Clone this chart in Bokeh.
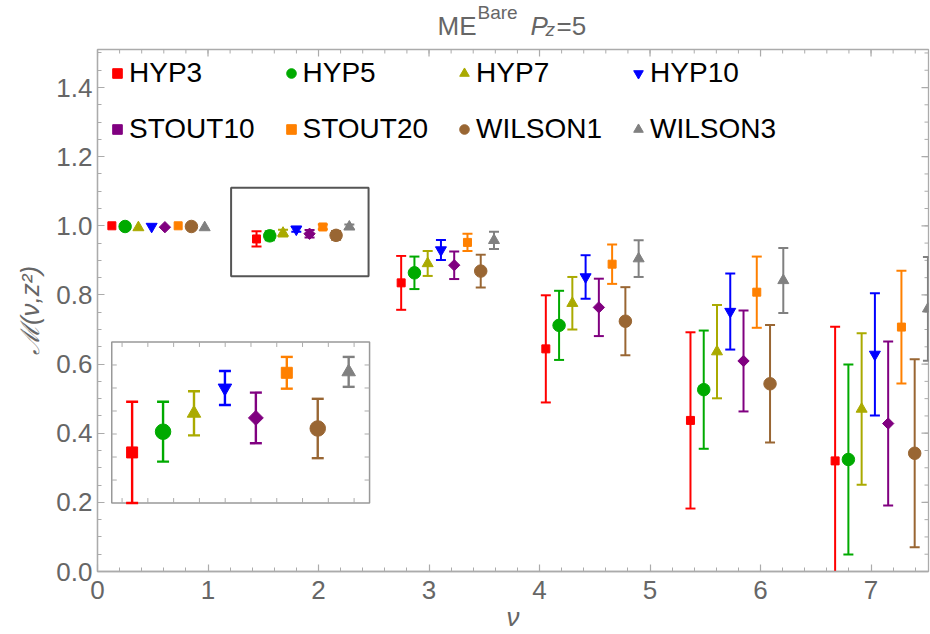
import math
from bokeh.plotting import figure
from bokeh.layouts import column
from bokeh.models import (ColumnDataSource, Range1d, FixedTicker, Legend,
                          LegendItem, Label, BoxAnnotation, PrintfTickFormatter)
from bokeh.embed import file_html
from bokeh.resources import INLINE

# ---------------- data ----------------
nu_groups = [0.0, 1.309, 2.618, 3.927, 5.236, 6.545]          # nu = 2*pi*Pz*z/L
series_names = ["HYP3", "HYP5", "HYP7", "HYP10", "STOUT10", "STOUT20", "WILSON1", "WILSON3"]
nu_shift = [0.13, 0.25, 0.37, 0.49, 0.61, 0.73, 0.85, 0.97]    # horizontal offset per series

hyp3_val = [1.000, 0.962, 0.835, 0.644, 0.437, 0.320]
hyp3_err = [0.0, 0.022, 0.078, 0.155, 0.255, 0.388]
hyp5_val = [0.998, 0.971, 0.864, 0.712, 0.526, 0.324]
hyp5_err = [0.0, 0.013, 0.047, 0.100, 0.171, 0.275]
hyp7_val = [0.995, 0.979, 0.891, 0.776, 0.636, 0.470]
hyp7_err = [0.0, 0.0096, 0.036, 0.076, 0.135, 0.219]
hyp10_val = [0.998, 0.990, 0.930, 0.852, 0.752, 0.628]
hyp10_err = [0.0, 0.0074, 0.029, 0.063, 0.110, 0.177]
stout10_val = [0.996, 0.977, 0.886, 0.764, 0.609, 0.428]
stout10_err = [0.0, 0.011, 0.040, 0.083, 0.146, 0.237]
stout20_val = [1.000, 0.9966, 0.952, 0.889, 0.808, 0.707]
stout20_err = [0.0, 0.0069, 0.025, 0.057, 0.103, 0.163]
wilson1_val = [0.998, 0.9724, 0.869, 0.724, 0.543, 0.342]
wilson1_err = [0.0, 0.0129, 0.0475, 0.0985, 0.170, 0.272]
wilson3_val = [0.995, 0.997, 0.958, 0.905, 0.842, 0.760]
wilson3_err = [0.0, 0.0065, 0.025, 0.053, 0.094, 0.150]

values = [hyp3_val, hyp5_val, hyp7_val, hyp10_val, stout10_val, stout20_val, wilson1_val, wilson3_val]
errors = [hyp3_err, hyp5_err, hyp7_err, hyp10_err, stout10_err, stout20_err, wilson1_err, wilson3_err]

x_ticks = [0, 1, 2, 3, 4, 5, 6, 7]
y_ticks = [0.0, 0.2, 0.4, 0.6, 0.8, 1.0, 1.2, 1.4]
inset_group = 1
inset_x_ticks = [1.4, 1.5, 1.6, 1.7, 1.8, 1.9, 2.0, 2.1, 2.2, 2.3]
inset_y_ticks = [0.95, 0.96, 0.97, 0.98, 0.99, 1.00]

# ---------------- styles ----------------
colors = ["#ff0000", "#00aa00", "#aaaa00", "#0000ff", "#800080", "#ff8000", "#996633", "#808080"]
markers = ["square", "circle", "triangle", "inverted_triangle", "square", "square", "circle", "triangle"]
angles = [0, 0, 0, 0, math.pi / 4, 0, 0, 0]
main_sizes = [8, 12.5, 11, 11, 8, 8, 12.5, 11]
inset_sizes = [11, 15.5, 13.5, 13.5, 10.5, 11, 15.5, 13.5]
FRAME = "#ababab"
TXT = "#666666"
FONT = "Liberation Sans"
X_MAX, Y_MAX = 7.52, 1.51

p = figure(width=930, height=594, x_range=Range1d(0, X_MAX), y_range=Range1d(0, Y_MAX),
           output_backend="svg", toolbar_location=None,
           min_border_left=97, min_border_top=9, min_border_right=2, min_border_bottom=10)
p.xgrid.visible = False
p.ygrid.visible = False
p.outline_line_color = FRAME
p.outline_line_width = 1.3
p.background_fill_color = "white"
p.border_fill_color = "white"

x_minor = [i * 0.2 for i in range(0, 38)]
y_minor = [i * 0.05 for i in range(0, 31)]


def style_axis(ax):
    ax.axis_line_color = FRAME
    ax.axis_line_width = 1.3
    ax.major_tick_line_color = FRAME
    ax.minor_tick_line_color = FRAME
    ax.major_tick_line_width = 1.2
    ax.major_tick_in = 7
    ax.major_tick_out = 0
    ax.minor_tick_in = 4
    ax.minor_tick_out = 0
    ax.major_label_text_color = TXT
    ax.major_label_text_font = FONT
    ax.major_label_text_font_size = "26px"
    ax.axis_label_text_color = TXT
    ax.axis_label_text_font = FONT
    ax.axis_label_text_font_size = "26px"
    ax.axis_label_text_font_style = "italic"


xax = p.xaxis[0]
xax.ticker = FixedTicker(ticks=x_ticks, minor_ticks=x_minor)
style_axis(xax)
xax.major_label_standoff = 9
xax.axis_label = "ν"
xax.axis_label_standoff = 0

yax = p.yaxis[0]
yax.ticker = FixedTicker(ticks=y_ticks, minor_ticks=y_minor)
yax.formatter = PrintfTickFormatter(format="%.1f")
style_axis(yax)
yax.major_label_standoff = 5
yax.axis_label = "ℳ(ν,z²)"
yax.axis_label_standoff = 8

# inward frame ticks on the top and right edges
p.ray(x=x_ticks, y=[Y_MAX] * len(x_ticks), length=7, angle=-math.pi / 2, length_units="screen",
      line_color=FRAME, line_width=1.2)
p.ray(x=x_minor, y=[Y_MAX] * len(x_minor), length=4, angle=-math.pi / 2, length_units="screen",
      line_color=FRAME, line_width=1)
p.ray(x=[X_MAX] * len(y_ticks), y=y_ticks, length=7, angle=math.pi, length_units="screen",
      line_color=FRAME, line_width=1.2)
p.ray(x=[X_MAX] * len(y_minor), y=y_minor, length=4, angle=math.pi, length_units="screen",
      line_color=FRAME, line_width=1)

# ---------------- main error bars ----------------
ex, elo, ehi, ecol = [], [], [], []
for i in range(len(series_names)):
    for g in range(len(nu_groups)):
        if errors[i][g] > 0:
            ex.append(nu_groups[g] + nu_shift[i])
            elo.append(values[i][g] - errors[i][g])
            ehi.append(values[i][g] + errors[i][g])
            ecol.append(colors[i])
esrc = ColumnDataSource(dict(x=ex, lo=elo, hi=ehi, color=ecol))
p.segment(x0="x", y0="lo", x1="x", y1="hi", source=esrc, line_color="color", line_width=2)
p.scatter(x="x", y="lo", source=esrc, marker="dash", size=10, line_color="color", line_width=2)
p.scatter(x="x", y="hi", source=esrc, marker="dash", size=10, line_color="color", line_width=2)

# ---------------- main markers ----------------
renderers = []
for i, name in enumerate(series_names):
    xs = [nu_groups[g] + nu_shift[i] for g in range(len(nu_groups))]
    r = p.scatter(x=xs, y=values[i], marker=markers[i], size=main_sizes[i], angle=angles[i],
                  fill_color=colors[i], line_color=colors[i])
    renderers.append(r)

# box marking the zoomed region
p.add_layout(BoxAnnotation(left=1.209, right=2.453, bottom=0.854, top=1.11, fill_alpha=0,
                           line_color="#555555", line_alpha=1, line_width=2))

# ---------------- inset ----------------
p.add_layout(BoxAnnotation(left=0.129, right=2.462, bottom=0.198, top=0.664, fill_color="white",
                           fill_alpha=1, line_color="#999999", line_alpha=1, line_width=1.5,
                           level="underlay"))
ix0, ix1, iy0, iy1 = 1.36, 2.36, 0.94, 1.01
sub = p.subplot(x_source=Range1d(ix0, ix1), y_source=Range1d(iy0, iy1),
                x_target=Range1d(0.129, 2.462), y_target=Range1d(0.198, 0.664))

sub.ray(x=[ix0] * len(inset_y_ticks), y=inset_y_ticks, length=5, angle=0, length_units="screen",
        line_color=FRAME, line_width=1)
sub.ray(x=[ix1] * len(inset_y_ticks), y=inset_y_ticks, length=5, angle=math.pi, length_units="screen",
        line_color=FRAME, line_width=1)
sub.ray(x=inset_x_ticks, y=[iy0] * len(inset_x_ticks), length=5, angle=math.pi / 2, length_units="screen",
        line_color=FRAME, line_width=1)
sub.ray(x=inset_x_ticks, y=[iy1] * len(inset_x_ticks), length=5, angle=-math.pi / 2, length_units="screen",
        line_color=FRAME, line_width=1)

ixs = [nu_groups[inset_group] + nu_shift[i] for i in range(len(series_names))]
ilo = [values[i][inset_group] - errors[i][inset_group] for i in range(len(series_names))]
ihi = [values[i][inset_group] + errors[i][inset_group] for i in range(len(series_names))]
isrc = ColumnDataSource(dict(x=ixs, lo=ilo, hi=ihi, color=colors))
sub.segment(x0="x", y0="lo", x1="x", y1="hi", source=isrc, line_color="color", line_width=2.4)
sub.scatter(x="x", y="lo", source=isrc, marker="dash", size=12, line_color="color", line_width=2.4)
sub.scatter(x="x", y="hi", source=isrc, marker="dash", size=12, line_color="color", line_width=2.4)
for i in range(len(series_names)):
    sub.scatter(x=[ixs[i]], y=[values[i][inset_group]], marker=markers[i], size=inset_sizes[i],
                angle=angles[i], fill_color=colors[i], line_color=colors[i])

# ---------------- legend ----------------
legend = Legend(items=[LegendItem(label=n, renderers=[r]) for n, r in zip(series_names, renderers)],
                location="top_left", orientation="horizontal", ncols=4,
                label_text_font=FONT, label_text_font_size="28px", label_text_color="black",
                glyph_width=24, glyph_height=24, label_standoff=0, label_width=120, label_height=30,
                spacing=24, padding=8, margin=0, border_line_alpha=0, background_fill_alpha=0)
p.add_layout(legend)

# ---------------- title (separate strip above the plot) ----------------
# its frame is aligned with the main plot frame (x 97..928 on the page)
t = figure(width=930, height=40, x_range=Range1d(97, 928), y_range=Range1d(0, 40),
           output_backend="svg", toolbar_location=None, min_border=0)
t.axis.visible = False
t.xgrid.visible = False
t.ygrid.visible = False
t.outline_line_color = None
t.border_fill_color = "white"
title_parts = [
    ("ME", 437, 15, "26px", "normal"),
    ("Bare", 477, 28, "19px", "normal"),
    ("P", 530, 15, "26px", "italic"),
    ("z", 545, 11, "19px", "italic"),
    ("=5", 556, 15, "26px", "normal"),
]
for txt, tx, ty, fs, st in title_parts:
    t.add_layout(Label(x=tx, y=ty, text=txt, text_font=FONT, text_font_size=fs,
                       text_font_style=st, text_color=TXT, text_baseline="middle"))

layout = column(t, p, spacing=0)
open("out.html", "w").write(file_html(layout, INLINE))
